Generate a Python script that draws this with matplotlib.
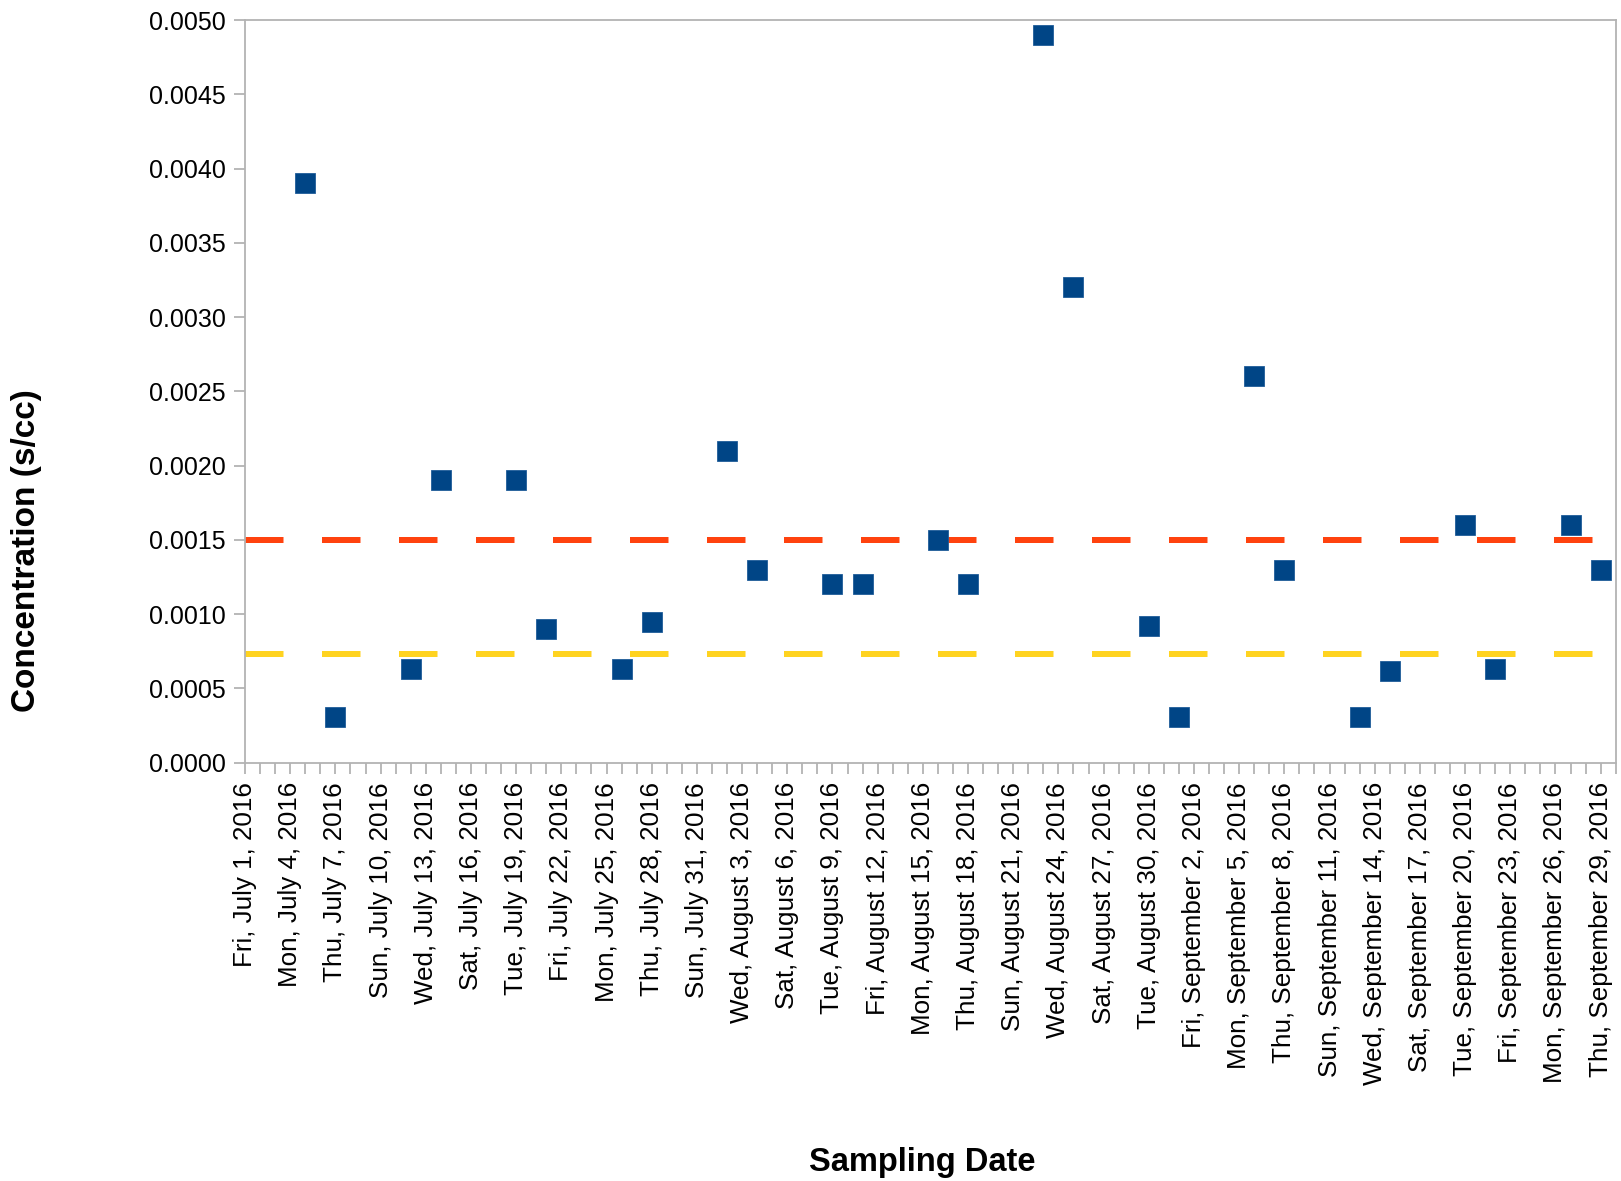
import datetime as dt
import matplotlib
matplotlib.use("Agg")
import matplotlib.pyplot as plt
import matplotlib.dates as mdates
from matplotlib.ticker import FuncFormatter, MultipleLocator

plt.rcParams['font.family'] = ['Liberation Sans', 'DejaVu Sans']

# ---- data ----
sample_dates = ["2016-07-05", "2016-07-07", "2016-07-12", "2016-07-14", "2016-07-19",
                "2016-07-21", "2016-07-26", "2016-07-28", "2016-08-02", "2016-08-04",
                "2016-08-09", "2016-08-11", "2016-08-16", "2016-08-18", "2016-08-23",
                "2016-08-25", "2016-08-30", "2016-09-01", "2016-09-06", "2016-09-08",
                "2016-09-13", "2016-09-15", "2016-09-20", "2016-09-22", "2016-09-27",
                "2016-09-29"]
concentration = [0.0039, 0.00031, 0.00063, 0.0019, 0.0019,
                 0.0009, 0.00063, 0.00095, 0.0021, 0.0013,
                 0.0012, 0.0012, 0.0015, 0.0012, 0.0049,
                 0.0032, 0.00092, 0.00031, 0.0026, 0.0013,
                 0.00031, 0.00062, 0.0016, 0.00063, 0.0016,
                 0.0013]
upper_limit = 0.0015
lower_limit = 0.00073
x_start = "2016-07-01"
x_end = "2016-09-30"

dates = [dt.datetime.strptime(d, "%Y-%m-%d") for d in sample_dates]
xs = dt.datetime.strptime(x_start, "%Y-%m-%d")
xe = dt.datetime.strptime(x_end, "%Y-%m-%d")

W, H = 1621, 1181
fig = plt.figure(figsize=(W / 100, H / 100), dpi=100)
ax = fig.add_axes([245 / W, 1 - 762.7 / H, (1615.7 - 245) / W, (762.7 - 20) / H])

gray = '#b3b3b3'
lw_px = 6
dash = 38.5 / lw_px
ax.axhline(upper_limit, color='#ff420e', lw=lw_px * 0.72, dashes=(dash, dash),
           solid_capstyle='butt', dash_capstyle='butt', zorder=2)
ax.axhline(lower_limit, color='#ffd320', lw=lw_px * 0.72, dashes=(dash, dash),
           solid_capstyle='butt', dash_capstyle='butt', zorder=2)
ax.plot(dates, concentration, linestyle='none', marker='s', ms=14,
        color='#004586', mec='#1f5c99', mew=0.6, zorder=3)

ax.set_xlim(xs, xe)
ax.set_ylim(0, 0.005)
ax.yaxis.set_major_locator(MultipleLocator(0.0005))
ax.yaxis.set_major_formatter(FuncFormatter(lambda v, p: f"{v:.4f}"))

ax.xaxis.set_minor_locator(mdates.DayLocator(interval=1))


def fmt_date(v, pos):
    d = mdates.num2date(v)
    return f"{d:%a}, {d:%B} {d.day}, {d.year}"


major_ticks = [mdates.date2num(xs + dt.timedelta(days=3 * i)) for i in range(31)]
ax.set_xticks(major_ticks)
ax.xaxis.set_major_formatter(FuncFormatter(fmt_date))

for s in ax.spines.values():
    s.set_color(gray)
    s.set_linewidth(1.3)

ax.tick_params(axis='both', which='both', color=gray, width=1.3, length=8,
               direction='out', labelcolor='black', pad=6)
ax.tick_params(axis='y', labelsize=18)
ax.tick_params(axis='x', which='major', labelrotation=90, labelsize=18.7)
for lbl in ax.get_xticklabels():
    lbl.set_verticalalignment('top')

fig.text(27 / W, 1 - 551 / H, "Concentration (s/cc)", rotation=90, fontsize=24,
         fontweight='bold', ha='center', va='center')
fig.text(922 / W, 1 - 1163 / H, "Sampling Date", fontsize=23.5,
         fontweight='bold', ha='center', va='center')

fig.savefig("out.png", dpi=100)
